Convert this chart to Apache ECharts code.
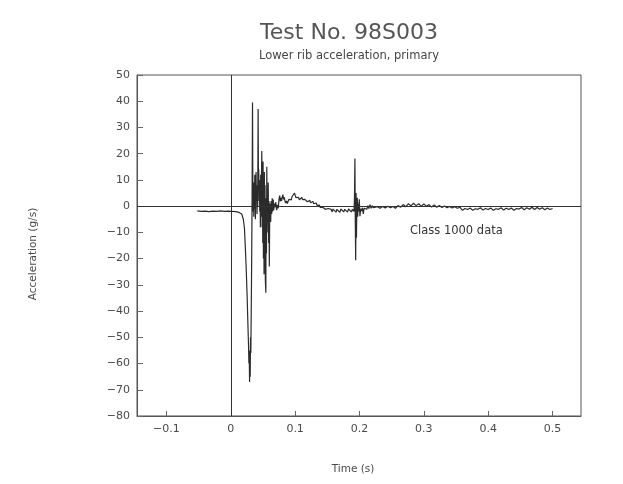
<!DOCTYPE html>
<html>
<head>
<meta charset="utf-8">
<script src="https://cdn.jsdelivr.net/npm/echarts@6/dist/echarts.min.js"></script>
<style>html,body{margin:0;padding:0;background:#fff}#c{width:623px;height:484px}</style>
</head>
<body>
<div id="c"></div>
<script>
// ---- data (time in s, acceleration in g) ----
const preImpact = [
[-0.052,-1.8],[-0.049,-1.3],[-0.046,-2.0],[-0.043,-1.5],[-0.040,-1.9],[-0.037,-1.4],[-0.034,-2.1],[-0.031,-1.6],
[-0.028,-1.9],[-0.025,-1.4],[-0.022,-2.0],[-0.019,-1.5],[-0.016,-1.8],[-0.013,-1.3],[-0.010,-2.0],[-0.007,-1.6],
[-0.004,-1.9],[-0.001,-1.5],[0.002,-2.0],[0.005,-1.6],[0.008,-2.1],[0.011,-1.8],[0.013,-2.4],[0.015,-2.2],
[0.017,-3.0],[0.018,-3.6]
];
const loading = [
[0.0195,-5],[0.0213,-8.5],[0.0225,-15],[0.0238,-22.6],[0.0254,-34],[0.0265,-44],[0.0276,-53],[0.0282,-60],
[0.0287,-55],[0.0292,-67],[0.0297,-58],[0.0302,-65],[0.0307,-50],[0.0312,-56],[0.0318,-40],[0.0325,-20],[0.0330,-2]
];
const impact = [
[0.0338,39.5],[0.0343,8],[0.0348,-2],[0.0353,9],[0.0358,-4],[0.0363,7],[0.0368,-1],[0.0373,12],[0.0378,3],
[0.0383,-5],[0.0388,6],[0.0393,13],[0.0398,2],[0.0403,8],[0.0408,-3],[0.0413,6],[0.0418,0],[0.0425,37],
[0.0430,9],[0.0435,14],[0.0440,2],[0.0445,10],[0.0450,-2],[0.0455,7],[0.0460,-8],[0.0465,12],[0.0470,-4],
[0.0475,6],[0.0482,21],[0.0487,-8],[0.0492,10],[0.0497,-14],[0.0502,17],[0.0507,-20],[0.0512,5],[0.0517,-26],
[0.0522,13],[0.0527,-12],[0.0532,8],[0.0537,-28],[0.0545,-33],[0.0550,3],[0.0555,-18],[0.0560,15],[0.0565,-10],
[0.0570,4],[0.0576,-6],[0.0582,9],[0.0588,-14],[0.0594,2],[0.0599,-23],[0.0605,-4],[0.0612,1],[0.0620,-6],
[0.0628,2],[0.0636,-3],[0.0644,3],[0.0652,-2],[0.0660,2.5],[0.0668,-1.5],[0.0676,1],[0.0684,-0.5]
];
const rebound = [
[0.0700,1.5],[0.0712,-1.5],[0.0725,0.5],[0.0738,-0.8],[0.0750,2.8],[0.0760,4.0],[0.0770,1.8],[0.0780,3.2],
[0.0790,2.0],[0.0800,3.6],[0.0810,4.4],[0.0820,2.6],[0.0830,3.4],[0.0840,2.2],[0.0852,1.2],[0.0865,2.0],
[0.0878,1.0],[0.0890,1.8],[0.0902,2.6],[0.0915,1.9],[0.0928,3.0],[0.0940,2.4],[0.0952,3.6],[0.0965,4.2],
[0.0978,3.8],[0.0990,5.0],[0.1002,4.0],[0.1015,3.2],[0.1028,3.8],[0.1040,2.6],[0.1052,3.4],[0.1065,2.4],
[0.1078,3.0],[0.1090,2.2],[0.1102,3.3],[0.1115,2.5],[0.1128,2.9],[0.1140,1.8],[0.1152,2.6],[0.1165,2.0],
[0.1178,2.8],[0.1190,1.7],[0.1202,2.4],[0.1215,1.6],[0.1228,2.2],[0.1240,1.3],[0.1252,1.9],[0.1265,1.2],
[0.1278,1.8],[0.1290,0.9],[0.1302,1.5],[0.1315,0.6],[0.1328,1.2],[0.1340,0.3],[0.1352,0.8],[0.1365,-0.2],
[0.1378,0.4],[0.1390,-0.5],[0.1402,0.0],[0.1415,-0.8],[0.1428,-0.4],[0.1440,-1.0],[0.1455,-0.6],[0.1470,-1.2],
[0.1485,-0.7],[0.1500,-1.3],[0.1515,-0.9],[0.1530,-1.6],[0.1545,-1.0],[0.1560,-1.2],[0.1575,-2.2],[0.1590,-1.1],
[0.1605,-1.3],[0.1620,-1.0],[0.1635,-2.3],[0.1650,-1.2],[0.1665,-1.0],[0.1680,-1.3],[0.1695,-2.4],[0.1710,-1.1],
[0.1725,-1.3],[0.1740,-1.0],[0.1755,-2.2],[0.1770,-1.2],[0.1785,-1.0],[0.1800,-1.4],[0.1815,-2.3],[0.1830,-1.1],
[0.1845,-1.3],[0.1860,-1.0],[0.1875,-2.2],[0.1890,-1.2],[0.1905,-1.4]
];
const secondSpike = [
[0.1915,-2.0],[0.1922,3],[0.1929,18.2],[0.1935,-6],[0.1941,-20.6],[0.1947,5],[0.1953,-12],[0.1960,2],
[0.1966,3.2],[0.1972,-4],[0.1980,1.0],[0.1988,-2.0],[0.1997,2.6],[0.2007,-3.8],[0.2020,-1.0],[0.2033,-1.9],
[0.2046,-0.6],[0.2059,-3.0],[0.2072,-0.8],[0.2085,-1.3],[0.2100,-0.2],[0.2115,-1.2],[0.2130,0.2],[0.2145,-0.9],
[0.2163,0.6],[0.2180,-0.8],[0.2197,0.2],[0.2214,-0.6]
];
const tail = [
[0.224,-0.9],[0.228,-0.2],[0.232,-0.8],[0.236,-0.1],[0.240,-0.7],[0.244,0.0],[0.248,-0.6],[0.252,-0.1],
[0.256,-0.8],[0.260,0.2],[0.264,-0.4],[0.268,0.6],[0.272,-0.2],[0.276,0.9],[0.280,0.1],[0.284,1.1],
[0.288,0.2],[0.292,0.9],[0.296,-0.1],[0.300,0.8],[0.304,0.0],[0.308,0.6],[0.312,-0.3],[0.316,0.5],
[0.320,-0.4],[0.324,0.3],[0.328,-0.5],[0.332,0.1],[0.336,-0.6],[0.340,-0.1],[0.344,-0.7],[0.348,-0.2],
[0.352,-0.8],[0.356,-0.4],[0.360,-1.6],[0.364,-0.9],[0.368,-1.3],[0.372,-0.7],[0.376,-1.6],[0.380,-1.0],
[0.384,-1.2],[0.388,-0.6],[0.392,-1.5],[0.396,-0.9],[0.400,-1.3],[0.404,-0.7],[0.408,-1.6],[0.412,-1.0],
[0.416,-1.2],[0.420,-0.6],[0.424,-1.5],[0.428,-0.8],[0.432,-1.3],[0.436,-0.7],[0.440,-1.6],[0.444,-0.9],
[0.448,-1.1],[0.452,-0.5],[0.456,-1.4],[0.460,-0.6],[0.464,-1.2],[0.468,-0.4],[0.472,-1.3],[0.476,-0.5],
[0.480,-1.2],[0.484,-0.6],[0.488,-1.4],[0.492,-0.7],[0.496,-1.3],[0.500,-0.9]
];
const titleText = 'Test No. 98S003';
const subtitleText = 'Lower rib acceleration, primary';
const xName = 'Time (s)';
const yName = 'Acceleration (g/s)';
const noteText = 'Class 1000 data';
const xRange = [-0.1457, 0.5442];
const yRange = [-80, 50];
const yStep = 10;

const signal = [].concat(preImpact, loading, impact, rebound, secondSpike, tail);
const FONT = 'DejaVu Sans';
const TXT = '#4a4a4a';
function fmt(v, d) {
  let s = Math.abs(v).toFixed(d);
  if (s.indexOf('.') >= 0) s = s.replace(/0+$/, '').replace(/\.$/, '');
  return v < -1e-9 ? '\u2212' + s : s;
}

const chart = echarts.init(document.getElementById('c'), null, {renderer: 'canvas'});
chart.setOption({
  animation: false,
  backgroundColor: '#fff',
  title: {
    text: titleText,
    subtext: subtitleText,
    left: 344, top: 17, textAlign: 'center', itemGap: 6,
    textStyle: {fontFamily: FONT, fontSize: 22, fontWeight: 'normal', color: '#555'},
    subtextStyle: {fontFamily: FONT, fontSize: 11.5, color: '#444'}
  },
  grid: {left: 137, right: 42, top: 75, bottom: 68, show: true, borderColor: '#555', borderWidth: 1, containLabel: false},
  xAxis: {
    type: 'value', min: xRange[0], max: xRange[1], splitNumber: 7,
    name: xName, nameLocation: 'middle', nameGap: 48,
    nameTextStyle: {fontFamily: FONT, fontSize: 10.5, color: TXT, padding: [0, 0, 0, -12]},
    axisLine: {show: true, onZero: false, lineStyle: {color: '#555'}},
    axisTick: {show: true, inside: true, length: 5, lineStyle: {color: '#666'}},
    axisLabel: {
      showMinLabel: false, showMaxLabel: false, margin: 8,
      fontFamily: FONT, fontSize: 11, color: TXT,
      formatter: v => Math.abs(v * 10 - Math.round(v * 10)) > 1e-6 ? '' : fmt(v, 1)
    },
    splitLine: {show: false}
  },
  yAxis: {
    type: 'value', min: yRange[0], max: yRange[1], interval: yStep,
    name: yName, nameLocation: 'middle', nameGap: 98, nameRotate: 90,
    nameTextStyle: {fontFamily: FONT, fontSize: 10.5, color: TXT, padding: [0, 0, 0, -17]},
    axisLine: {show: true, onZero: false, lineStyle: {color: '#555'}},
    axisTick: {show: true, inside: true, length: 6, lineStyle: {color: '#666'}},
    axisLabel: {margin: 7, fontFamily: FONT, fontSize: 11, color: TXT, formatter: v => fmt(v, 0)},
    splitLine: {show: false}
  },
  graphic: [{
    type: 'text', left: 410, top: 225,
    style: {text: noteText, font: '11.5px "DejaVu Sans"', fill: '#333'}
  }],
  series: [{
    type: 'line', data: signal, showSymbol: false, symbol: 'none', sampling: null,
    lineStyle: {color: '#2b2b2b', width: 1.2},
    markLine: {
      silent: true, symbol: 'none', label: {show: false},
      lineStyle: {color: '#333', width: 1, type: 'solid'},
      data: [{xAxis: 0}, {yAxis: 0}]
    }
  }]
});
</script>
</body>
</html>
